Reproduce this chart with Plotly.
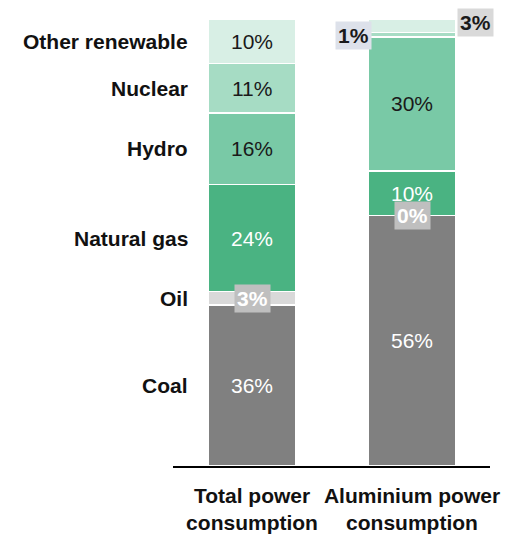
import plotly.graph_objects as go
import numpy as np

# Power mix (%) behind total vs. aluminium power consumption
categories = ["Total power consumption", "Aluminium power consumption"]
tick_labels = ["<b>Total power<br>consumption</b>", "<b>Aluminium power<br>consumption</b>"]
sources = ["Coal", "Oil", "Natural gas", "Hydro", "Nuclear", "Other renewable"]
total_share = [36, 3, 24, 16, 11, 10]
aluminium_share = [56, 0, 10, 30, 1, 3]

colors = ["#808080", "#d9d9d9", "#4ab382", "#79c9a6", "#a6dcc4", "#d8efe5"]
text_colors = ["white", "white", "white", "#1a1a1a", "#1a1a1a", "#1a1a1a"]

FONT = "Liberation Sans, Arial, sans-serif"
FS = 21

fig = go.Figure()
xpos = [0, 1]
for i, src in enumerate(sources):
    fig.add_trace(go.Bar(
        x=xpos, y=[total_share[i], aluminium_share[i]], name=src,
        marker=dict(color=colors[i], line=dict(color="white", width=1.5)),
        width=0.55, showlegend=False, hoverinfo="skip",
    ))

annotations = []
series = [total_share, aluminium_share]
for xi, vals in zip(xpos, series):
    base = np.concatenate([[0], np.cumsum(vals)[:-1]])
    mids = base + np.array(vals) / 2
    for i, v in enumerate(vals):
        y = mids[i]
        txt = f"{v}%"
        boxed = False
        xa, xanchor, bg, fc = xi, "center", None, text_colors[i]
        if sources[i] == "Oil":
            boxed, bg, fc = True, "#bfbfbf", "white"
        elif xi == 1 and sources[i] == "Nuclear":
            boxed, bg, fc = True, "#dde1ea", "#1a1a1a"
            xa, xanchor = xi - 0.275 + 0.025, "right"
            y = y - 0.3
        elif xi == 1 and sources[i] == "Other renewable":
            boxed, bg, fc = True, "#d9d9d9", "#1a1a1a"
            xa, xanchor = xi + 0.275 + 0.005, "left"
            y = y + 0.8
        if boxed:
            annotations.append(dict(
                x=xa, y=y, xref="x", yref="y", text=f"<b>{txt}</b>", showarrow=False,
                xanchor=xanchor, yanchor="middle", bgcolor=bg, borderpad=2,
                font=dict(family=FONT, size=FS, color=fc),
            ))
        else:
            annotations.append(dict(
                x=xa, y=y, xref="x", yref="y", text=txt, showarrow=False,
                xanchor=xanchor, yanchor="middle",
                font=dict(family=FONT, size=FS, color=fc),
            ))

# Source names beside the first bar
base = np.concatenate([[0], np.cumsum(total_share)[:-1]])
for i, src in enumerate(sources):
    y = base[i] + total_share[i] / 2
    annotations.append(dict(
        x=-0.3875, y=y, xref="x", yref="y", text=f"<b>{src}</b>", showarrow=False,
        xanchor="right", yanchor="middle",
        font=dict(family=FONT, size=FS, color="#111111"),
    ))

fig.update_layout(
    barmode="stack",
    width=510, height=540,
    margin=dict(l=173, r=20, t=19, b=74, autoexpand=False),
    plot_bgcolor="white", paper_bgcolor="white",
    annotations=annotations,
    xaxis=dict(range=[-0.494, 1.4875], tickvals=xpos, ticktext=tick_labels,
               tickangle=0, automargin=False,
               showline=True, linecolor="black", linewidth=1.5, ticks="",
               ticklabelstandoff=10,
               showgrid=False, zeroline=False,
               tickfont=dict(family=FONT, size=FS, color="#111111")),
    yaxis=dict(range=[0, 100], visible=False, showgrid=False, zeroline=False,
               automargin=False),
)

fig.write_html("out.html")
